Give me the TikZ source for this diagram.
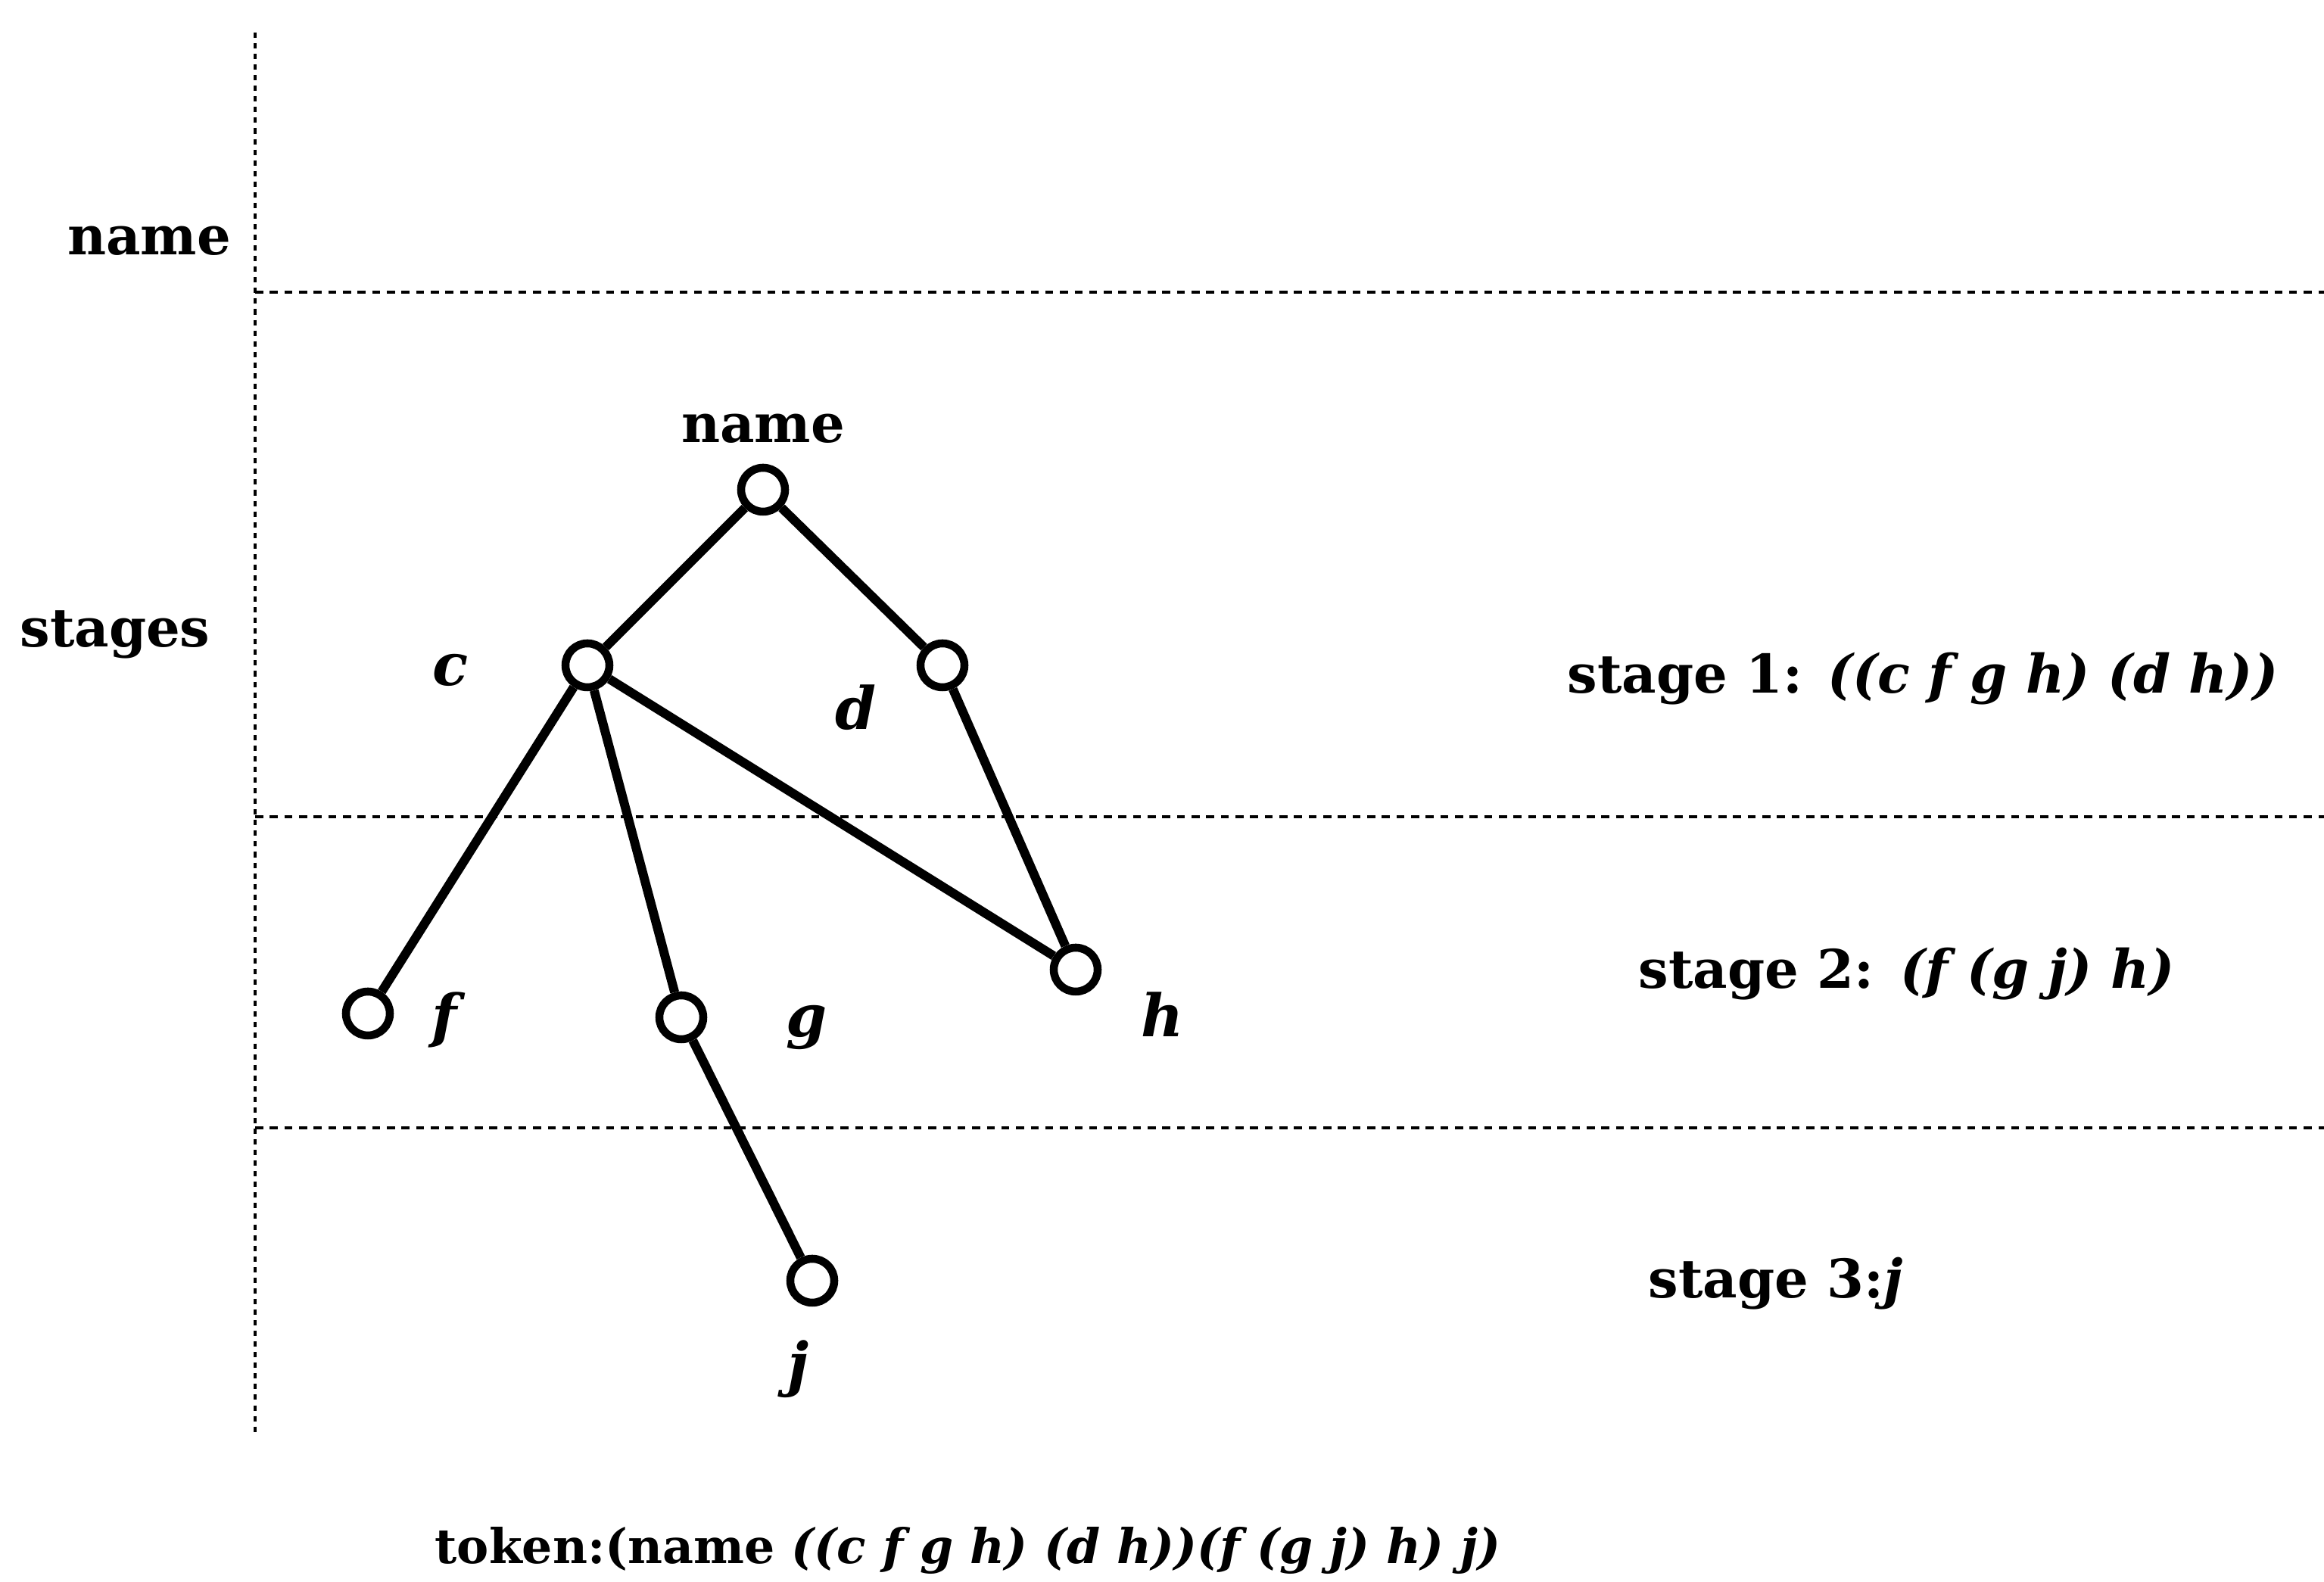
\documentclass[tikz,border=0pt]{standalone}
\usepackage{fontspec}
\setmainfont{DejaVu Serif}
\begin{document}
\begin{tikzpicture}[
    vert/.style={draw,circle,fill=white,line width=3pt,minimum size=0.58cm,inner sep=0pt},
    arista/.style={line width=3.4pt},
    corte/.style={line width=1.3pt,dash pattern=on 3pt off 2.5pt},
    etq/.style={anchor=base,inner sep=0pt,font=\fontsize{20}{24}\selectfont\bfseries},
    var/.style={anchor=base,inner sep=0pt,font=\fontsize{22}{26}\selectfont\bfseries\itshape}]
    \useasboundingbox (0,0) rectangle (30.7,20.9);
    \begin{scope}
        \draw[corte,dash pattern=on 2pt off 2pt] (3.37,20.47) --++ (0,-18.52);
        \draw[corte] (3.37,17.04) --++ (27.33,0);
        \draw[corte] (3.37,10.11) --++ (27.33,0);
        \draw[corte] (3.37,6.00) --++ (27.33,0);
        \node[etq] (lname) at (1.97,17.53) {name};
        \node[etq] (lstages) at (1.52,12.35) {stages};
    \end{scope}
    \begin{scope}
        \node[vert] (root) at (10.08,14.43) {};
        \node[vert] (c) at (7.76,12.11) {};
        \node[vert] (d) at (12.45,12.11) {};
        \node[vert] (f) at (4.86,7.51) {};
        \node[vert] (g) at (9.00,7.46) {};
        \node[vert] (h) at (14.21,8.09) {};
        \node[vert] (j) at (10.73,3.98) {};
        \draw[arista] (root) -- (c);
        \draw[arista] (root) -- (d);
        \draw[arista] (c) -- (f);
        \draw[arista] (c) -- (g);
        \draw[arista] (c) -- (h);
        \draw[arista] (d) -- (h);
        \draw[arista] (g) -- (j);
        \node[etq] (lroot) at (10.08,15.05) {name};
        \node[var] (lc) at (5.95,11.84) {c};
        \node[var] (ld) at (11.31,11.26) {d};
        \node[var] (lf) at (5.87,7.20) {f};
        \node[var] (lg) at (10.66,7.20) {g};
        \node[var] (lh) at (15.36,7.20) {h};
        \node[var] (lj) at (10.54,2.60) {j};
    \end{scope}
    \begin{scope}
        \node[etq,anchor=base west] (st1) at (20.70,11.74) {stage 1: \textit{((c f g h) (d h))}};
        \node[etq,anchor=base west] (st2) at (21.64,7.84) {stage 2:\enspace\textit{(f (g j) h)}};
        \node[etq,anchor=base west] (st3) at (21.77,3.75) {stage 3:\textit{j}};
        \node[etq,anchor=base west,font=\fontsize{18}{22}\selectfont\bfseries] (tok) at (5.74,0.24) {token:(name \textit{((c f g h) (d h))(f (g j) h) j)}};
    \end{scope}
\end{tikzpicture}
\end{document}
